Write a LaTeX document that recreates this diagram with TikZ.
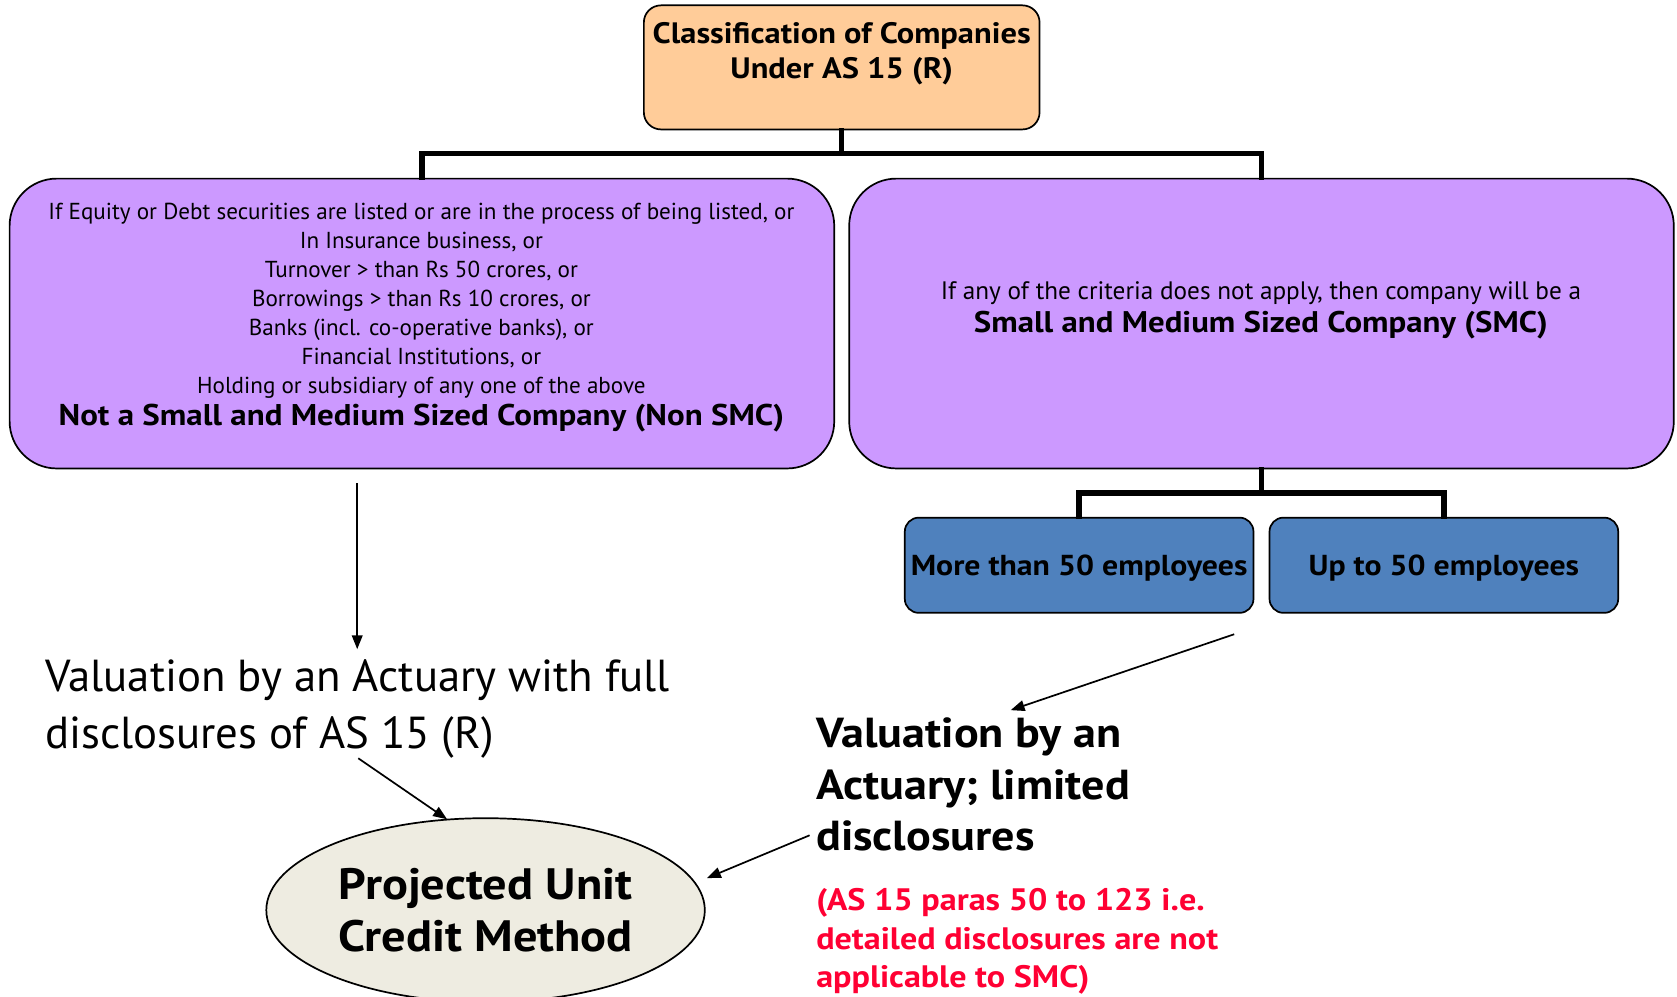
\documentclass[tikz,border=0pt]{standalone}
\usepackage{fontspec}
\setmainfont{PT Sans}[BoldFeatures={FakeStretch=1.1}]
\usetikzlibrary{arrows.meta,shapes.geometric}
\definecolor{peach}{HTML}{FFCC99}
\definecolor{lilac}{HTML}{CC99FF}
\definecolor{steel}{HTML}{4F81BD}
\definecolor{cream}{HTML}{EEECE1}
\definecolor{alertred}{HTML}{FF0033}
\tikzset{
  box/.style={draw=black,line width=1.6pt,rounded corners=#1,inner sep=0pt},
  box/.default=14pt,
  elbow/.style={line width=5pt,line cap=rect},
  arr/.style={line width=1.6pt,-{Triangle[length=13pt,width=10pt]}},
  txt/.style={inner sep=0pt,align=left,anchor=west},
  ctxt/.style={inner sep=0pt,align=center},
}
\newcommand{\fs}[2]{\fontsize{#1pt}{#2pt}\selectfont}
\begin{document}
\begin{tikzpicture}[x=1pt,y=-1pt]
\useasboundingbox (0,0) rectangle (1568,932);
% top box
\node[box=16pt,fill=peach,minimum width=370pt,minimum height=116pt] (T) at (787,63) {};
\node[ctxt,font=\bfseries\fs{27.6}{33}] (Tt) at (787,50) {Classification of Companies\\Under AS 15 (R)};
% left and right boxes
\node[box=44pt,fill=lilac,minimum width=771pt,minimum height=271pt] (L) at (394.5,302.5) {};
\node[box=44pt,fill=lilac,minimum width=771pt,minimum height=271pt] (R) at (1179.5,302.5) {};
\node[ctxt,font=\fs{21.6}{27}] (Lt) at (394,297) {If Equity or Debt securities are listed or are in the process of being listed, or\\
In Insurance business, or\\
Turnover > than Rs 50 crores, or\\
Borrowings > than Rs 10 crores, or\\
Banks (incl. co-operative banks), or\\
Financial Institutions, or\\
Holding or subsidiary of any one of the above\\[3pt]
{\bfseries\fs{28}{29}Not a Small and Medium Sized Company (Non SMC)}};
\node[ctxt,font=\fs{23.6}{31}] (Rt) at (1179,290.5) {If any of the criteria does not apply, then company will be a\\
{\bfseries\fs{27.9}{31}Small and Medium Sized Company (SMC)}};
% employee boxes
\node[box=13pt,fill=steel,minimum width=326pt,minimum height=89pt,text depth=0pt,font=\bfseries\fs{27}{30}] (B1) at (1009,528.5) {More than 50 employees};
\node[box=13pt,fill=steel,minimum width=326pt,minimum height=89pt,text depth=0pt,font=\bfseries\fs{27}{30}] (B2) at (1350,528.5) {Up to 50 employees};
% elbow connectors
\draw[elbow] (T.south) -- ++(0,22) -| (L.north);
\draw[elbow] (T.south) ++(0,22) -| (R.north);
\draw[elbow] (R.south) -- ++(0,22) -| (B1.north);
\draw[elbow] (R.south) ++(0,22) -| (B2.north);
% texts
\node[txt,font=\fs{41.9}{54}] (V1) at (42,663) {Valuation by an Actuary with full\\disclosures of AS 15 (R)};
\node[txt,font=\bfseries\fs{39.2}{48}] (V2) at (763,733.5) {Valuation by an\\Actuary; limited\\disclosures};
\node[txt,font=\bfseries\fs{29}{36},text=alertred] (N) at (763,880.5) {(AS 15 paras 50 to 123 i.e.\\detailed disclosures are not\\applicable to SMC)};
% ellipse
\node[ellipse,draw=black,line width=1.6pt,fill=cream,minimum width=410pt,minimum height=172pt,inner sep=0pt,font=\bfseries\fs{41.1}{48},align=center] (E) at (454,851) {Projected Unit\\Credit Method};
% arrows
\coordinate (a1s) at (334,452);
\coordinate (a1e) at (334,607);
\coordinate (a2s) at (335,709);
\coordinate (a2e) at (418,766);
\coordinate (a3s) at (1154,593);
\coordinate (a3e) at (945,664);
\coordinate (a4s) at (757,781);
\coordinate (a4e) at (661,821);
\draw[arr] (a1s) -- (a1e);
\draw[arr] (a2s) -- (a2e);
\draw[arr] (a3s) -- (a3e);
\draw[arr] (a4s) -- (a4e);
\end{tikzpicture}
\end{document}
